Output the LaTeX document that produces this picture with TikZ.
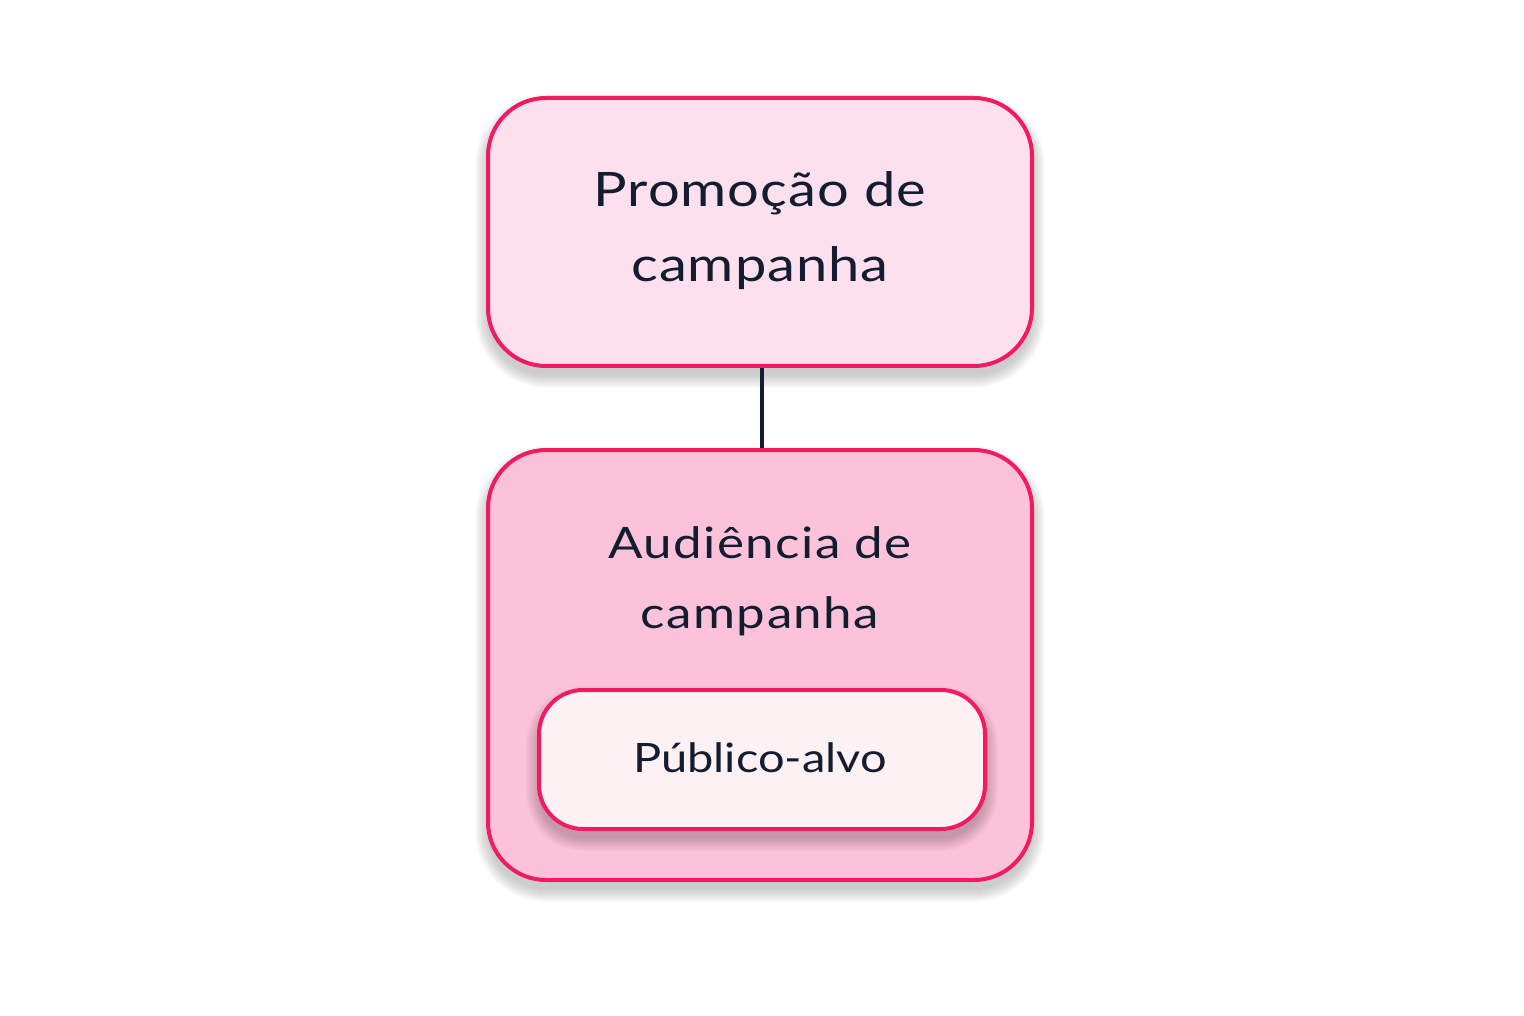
\documentclass[tikz,border=0pt]{standalone}
\usepackage{fontspec}
\setmainfont{Lato}
\newfontfamily\bigf[FakeStretch=1.18, LetterSpace=2]{Lato}
\newfontfamily\midf[FakeStretch=1.18, LetterSpace=3.3]{Lato}
\newfontfamily\smallf[FakeStretch=1.16, LetterSpace=0]{Lato}
\definecolor{bord}{HTML}{F21B61}
\definecolor{fillA}{HTML}{FDE0EE}
\definecolor{fillB}{HTML}{FCC2DA}
\definecolor{fillC}{HTML}{FEF1F4}
\definecolor{ink}{HTML}{141C30}
\newcommand\boxshadow[5]{%
  \foreach \k in {0,...,13}{%
    \pgfmathsetmacro\rr{#5+\k}%
    \fill[black, opacity=0.015, rounded corners=\rr pt]
      (#1-\k, #2-\k+9) rectangle (#3+\k, #4+\k+9);
  }}
\begin{document}
\begin{tikzpicture}[x=1pt,y=-1pt,
  box/.style={draw=bord, line width=4pt, inner sep=0pt},
  bigtxt/.style={text=ink, inner sep=0pt, anchor=base, font=\bigf\fontsize{47.5}{60}\selectfont},
  midtxt/.style={text=ink, inner sep=0pt, anchor=base, font=\midf\fontsize{43.3}{55}\selectfont},
  smalltxt/.style={text=ink, inner sep=0pt, anchor=base, font=\smallf\fontsize{40.5}{50}\selectfont},
  link/.style={draw=ink, line width=4pt}]
\useasboundingbox (0,0) rectangle (1524,1016);
\boxshadow{488}{98}{1032}{366}{58}
\boxshadow{488}{450}{1032}{880}{58}
\node[box, fill=fillA, rounded corners=58pt, minimum width=544pt, minimum height=268pt] (top) at (760,232) {};
\node[box, fill=fillB, rounded corners=58pt, minimum width=544pt, minimum height=430pt] (bottom) at (760,665) {};
\boxshadow{539}{690}{985}{829}{44}
\node[box, fill=fillC, rounded corners=44pt, minimum width=446pt, minimum height=139pt] (inner) at (762,759.5) {};
\draw[link] ([xshift=2pt]top.south) -- ([xshift=2pt]bottom.north);
\node[bigtxt] (t1) at (760,207) {Promoção de};
\node[bigtxt] (t2) at (760,282) {campanha};
\node[midtxt] (m1) at (760,558) {Audiência de};
\node[midtxt] (m2) at (760,628) {campanha};
\node[smalltxt] (p1) at (760,772) {Público-alvo};
\end{tikzpicture}
\end{document}
